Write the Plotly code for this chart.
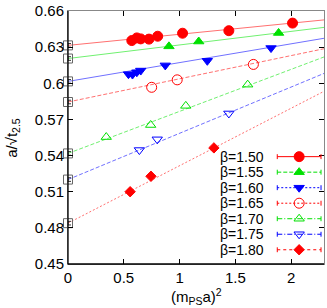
import plotly.graph_objects as go

# ---------------- data ----------------
betas = ["1.50", "1.55", "1.60", "1.65", "1.70", "1.75", "1.80"]

x150 = [0.572, 0.617, 0.652, 0.726, 0.804, 1.027, 1.442, 2.013]
y150 = [0.6355, 0.6377, 0.6369, 0.6367, 0.6391, 0.6416, 0.6437, 0.6500]
x155 = [0.905, 1.172, 1.888]
y155 = [0.6307, 0.6347, 0.6418]
x160 = [0.542, 0.578, 0.617, 0.652, 0.872, 1.249, 1.820]
y160 = [0.6076, 0.6073, 0.6092, 0.6106, 0.6149, 0.6187, 0.6293]
x165 = [0.750, 0.979, 1.662]
y165 = [0.5967, 0.6029, 0.6157]
x170 = [0.343, 0.741, 1.056, 1.611]
y170 = [0.5554, 0.5654, 0.5813, 0.5989]
x175 = [0.640, 0.800, 1.442]
y175 = [0.5446, 0.5535, 0.5750]
x180 = [0.557, 0.744, 1.308]
y180 = [0.5100, 0.5228, 0.5464]

# linear fits: a/sqrt(t) = c0 + c1 * (m_PS a)^2
intercepts = [0.6315, 0.6206, 0.6016, 0.5845, 0.5418, 0.5201, 0.4839]
intercept_err = [0.0015, 0.0015, 0.0015, 0.0015, 0.0015, 0.0015, 0.0015]
slopes = [0.00922, 0.01126, 0.0156, 0.01926, 0.0349, 0.0384, 0.0477]
fit_xmax = 2.3

xs = [x150, x155, x160, x165, x170, x175, x180]
ys = [y150, y155, y160, y165, y170, y175, y180]

x_ticks = [0, 0.5, 1, 1.5, 2]
x_tick_text = ["0", "0.5", "1", "1.5", "2"]
y_ticks = [0.45, 0.48, 0.51, 0.54, 0.57, 0.6, 0.63, 0.66]
y_tick_text = ["0.45", "0.48", "0.51", "0.54", "0.57", "0.6", "0.63", "0.66"]

# ---------------- styles ----------------
colors = ["#ff0000", "#00e000", "#0000ff", "#ff0000", "#00e000", "#0000ff", "#ff0000"]
fit_colors = ["#ff7070", "#70f070", "#7070ff", "#ff7070", "#70f070", "#7070ff", "#ff7070"]
symbols = ["circle", "triangle-up", "triangle-down", "circle-open",
           "triangle-up-open", "triangle-down-open", "diamond"]
sizes = [10, 9, 9, 10, 9, 9, 8]
fit_dash = ["solid", "solid", "solid", "4px,2px", "4px,2px", "4px,2px", "2px,2px"]
leg_dash = ["solid", "4px,2px", "2px,2px", "2px,2px", "5px,2px,1px,2px", "5px,2px,1px,2px", "3px,3px"]

FONT = "Liberation Sans, Arial, sans-serif"
FS = 15
LFS = 14
W, H = 327, 308
ML, MR, MT, MB = 67.5, 2, 6.7, 43.7

fig = go.Figure()

# fit lines
for i in range(len(betas)):
    fig.add_trace(go.Scatter(
        x=[0, fit_xmax],
        y=[intercepts[i], intercepts[i] + slopes[i] * fit_xmax],
        mode="lines", line=dict(color=fit_colors[i], width=1, dash=fit_dash[i]),
        showlegend=False, hoverinfo="skip"))

# data points
for i in range(len(betas)):
    fig.add_trace(go.Scatter(
        x=xs[i], y=ys[i], mode="markers",
        marker=dict(symbol=symbols[i], size=sizes[i], color=colors[i],
                    line=dict(color=colors[i], width=1)),
        showlegend=False))

# extrapolated values at zero
fig.add_trace(go.Scatter(
    x=[0] * len(intercepts), y=intercepts, mode="markers",
    marker=dict(symbol="square-open", size=9, color="#666666", line=dict(width=1)),
    error_y=dict(type="data", array=intercept_err, color="#333333", thickness=1, width=3),
    cliponaxis=False, showlegend=False))

# ---------------- manual legend (text left, sample right) ----------------
pw = W - ML - MR
ph = H - MT - MB
lx0 = (278 - ML) / pw
lx1 = (322 - ML) / pw
lxm = (lx0 + lx1) / 2
ltext = (267 - ML) / pw
row0 = (H - MB - 155) / ph
step = 15.8 / ph
shapes = []
annotations = []
for i in range(len(betas)):
    yy = row0 - i * step
    fig.add_trace(go.Scatter(
        x=[lx0, lx1], y=[yy, yy], xaxis="x2", yaxis="y2", mode="lines",
        line=dict(color=colors[i], width=1, dash=leg_dash[i]),
        showlegend=False, hoverinfo="skip"))
    fig.add_trace(go.Scatter(
        x=[lxm], y=[yy], xaxis="x2", yaxis="y2", mode="markers",
        marker=dict(symbol=symbols[i], size=sizes[i], color=colors[i],
                    line=dict(color=colors[i], width=1)),
        showlegend=False, hoverinfo="skip"))
    for xc in (lx0, lx1):
        shapes.append(dict(type="line", xref="paper", yref="paper",
                           x0=xc, x1=xc, y0=yy - 2.5 / ph, y1=yy + 2.5 / ph,
                           line=dict(color=colors[i], width=1)))
    annotations.append(dict(xref="paper", yref="paper", x=ltext, y=yy,
                            xanchor="right", yanchor="middle", showarrow=False,
                            text="β=" + betas[i],
                            font=dict(family=FONT, size=LFS, color="black")))

# axis titles
annotations.append(dict(xref="paper", yref="paper", x=0.5, y=(H - MB - 297) / ph,
                        xanchor="center", yanchor="middle", showarrow=False,
                        text="(m<sub>PS</sub>a)<sup>2</sup>",
                        font=dict(family=FONT, size=FS, color="black")))
annotations.append(dict(xref="paper", yref="paper", x=(12 - ML) / pw, y=(H - MB - 136) / ph,
                        xanchor="center", yanchor="middle", showarrow=False, textangle=-90,
                        text="a/√t<sub>2.5</sub>",
                        font=dict(family=FONT, size=FS, color="black")))

# black left/bottom axis lines over gray frame
shapes.append(dict(type="line", xref="paper", yref="paper", x0=0, x1=0, y0=0, y1=1,
                   line=dict(color="black", width=1.3)))
shapes.append(dict(type="line", xref="paper", yref="paper", x0=0, x1=1, y0=0, y1=0,
                   line=dict(color="black", width=1.3)))

fig.update_layout(
    width=W, height=H,
    margin=dict(l=ML, r=MR, t=MT, b=MB),
    paper_bgcolor="white", plot_bgcolor="white",
    font=dict(family=FONT, size=FS, color="black"),
    xaxis=dict(range=[0, 2.295], tickvals=x_ticks, ticktext=x_tick_text,
               ticks="inside", ticklen=5, tickcolor="black", showgrid=False, zeroline=False,
               showline=True, linecolor="#888888", mirror="ticks",
               ticklabeloverflow="allow"),
    yaxis=dict(range=[0.45, 0.66005], tickvals=y_ticks, ticktext=y_tick_text,
               ticks="inside", ticklen=5, tickcolor="black", showgrid=False, zeroline=False,
               showline=True, linecolor="#888888", mirror="ticks",
               ticklabeloverflow="allow"),
    xaxis2=dict(range=[0, 1], overlaying="x", visible=False, fixedrange=True),
    yaxis2=dict(range=[0, 1], overlaying="y", visible=False, fixedrange=True),
    shapes=shapes, annotations=annotations,
    showlegend=False,
)

fig.write_html("out.html", config={"displayModeBar": False},
               post_script="document.body.style.margin='0';document.body.style.padding='0';")
